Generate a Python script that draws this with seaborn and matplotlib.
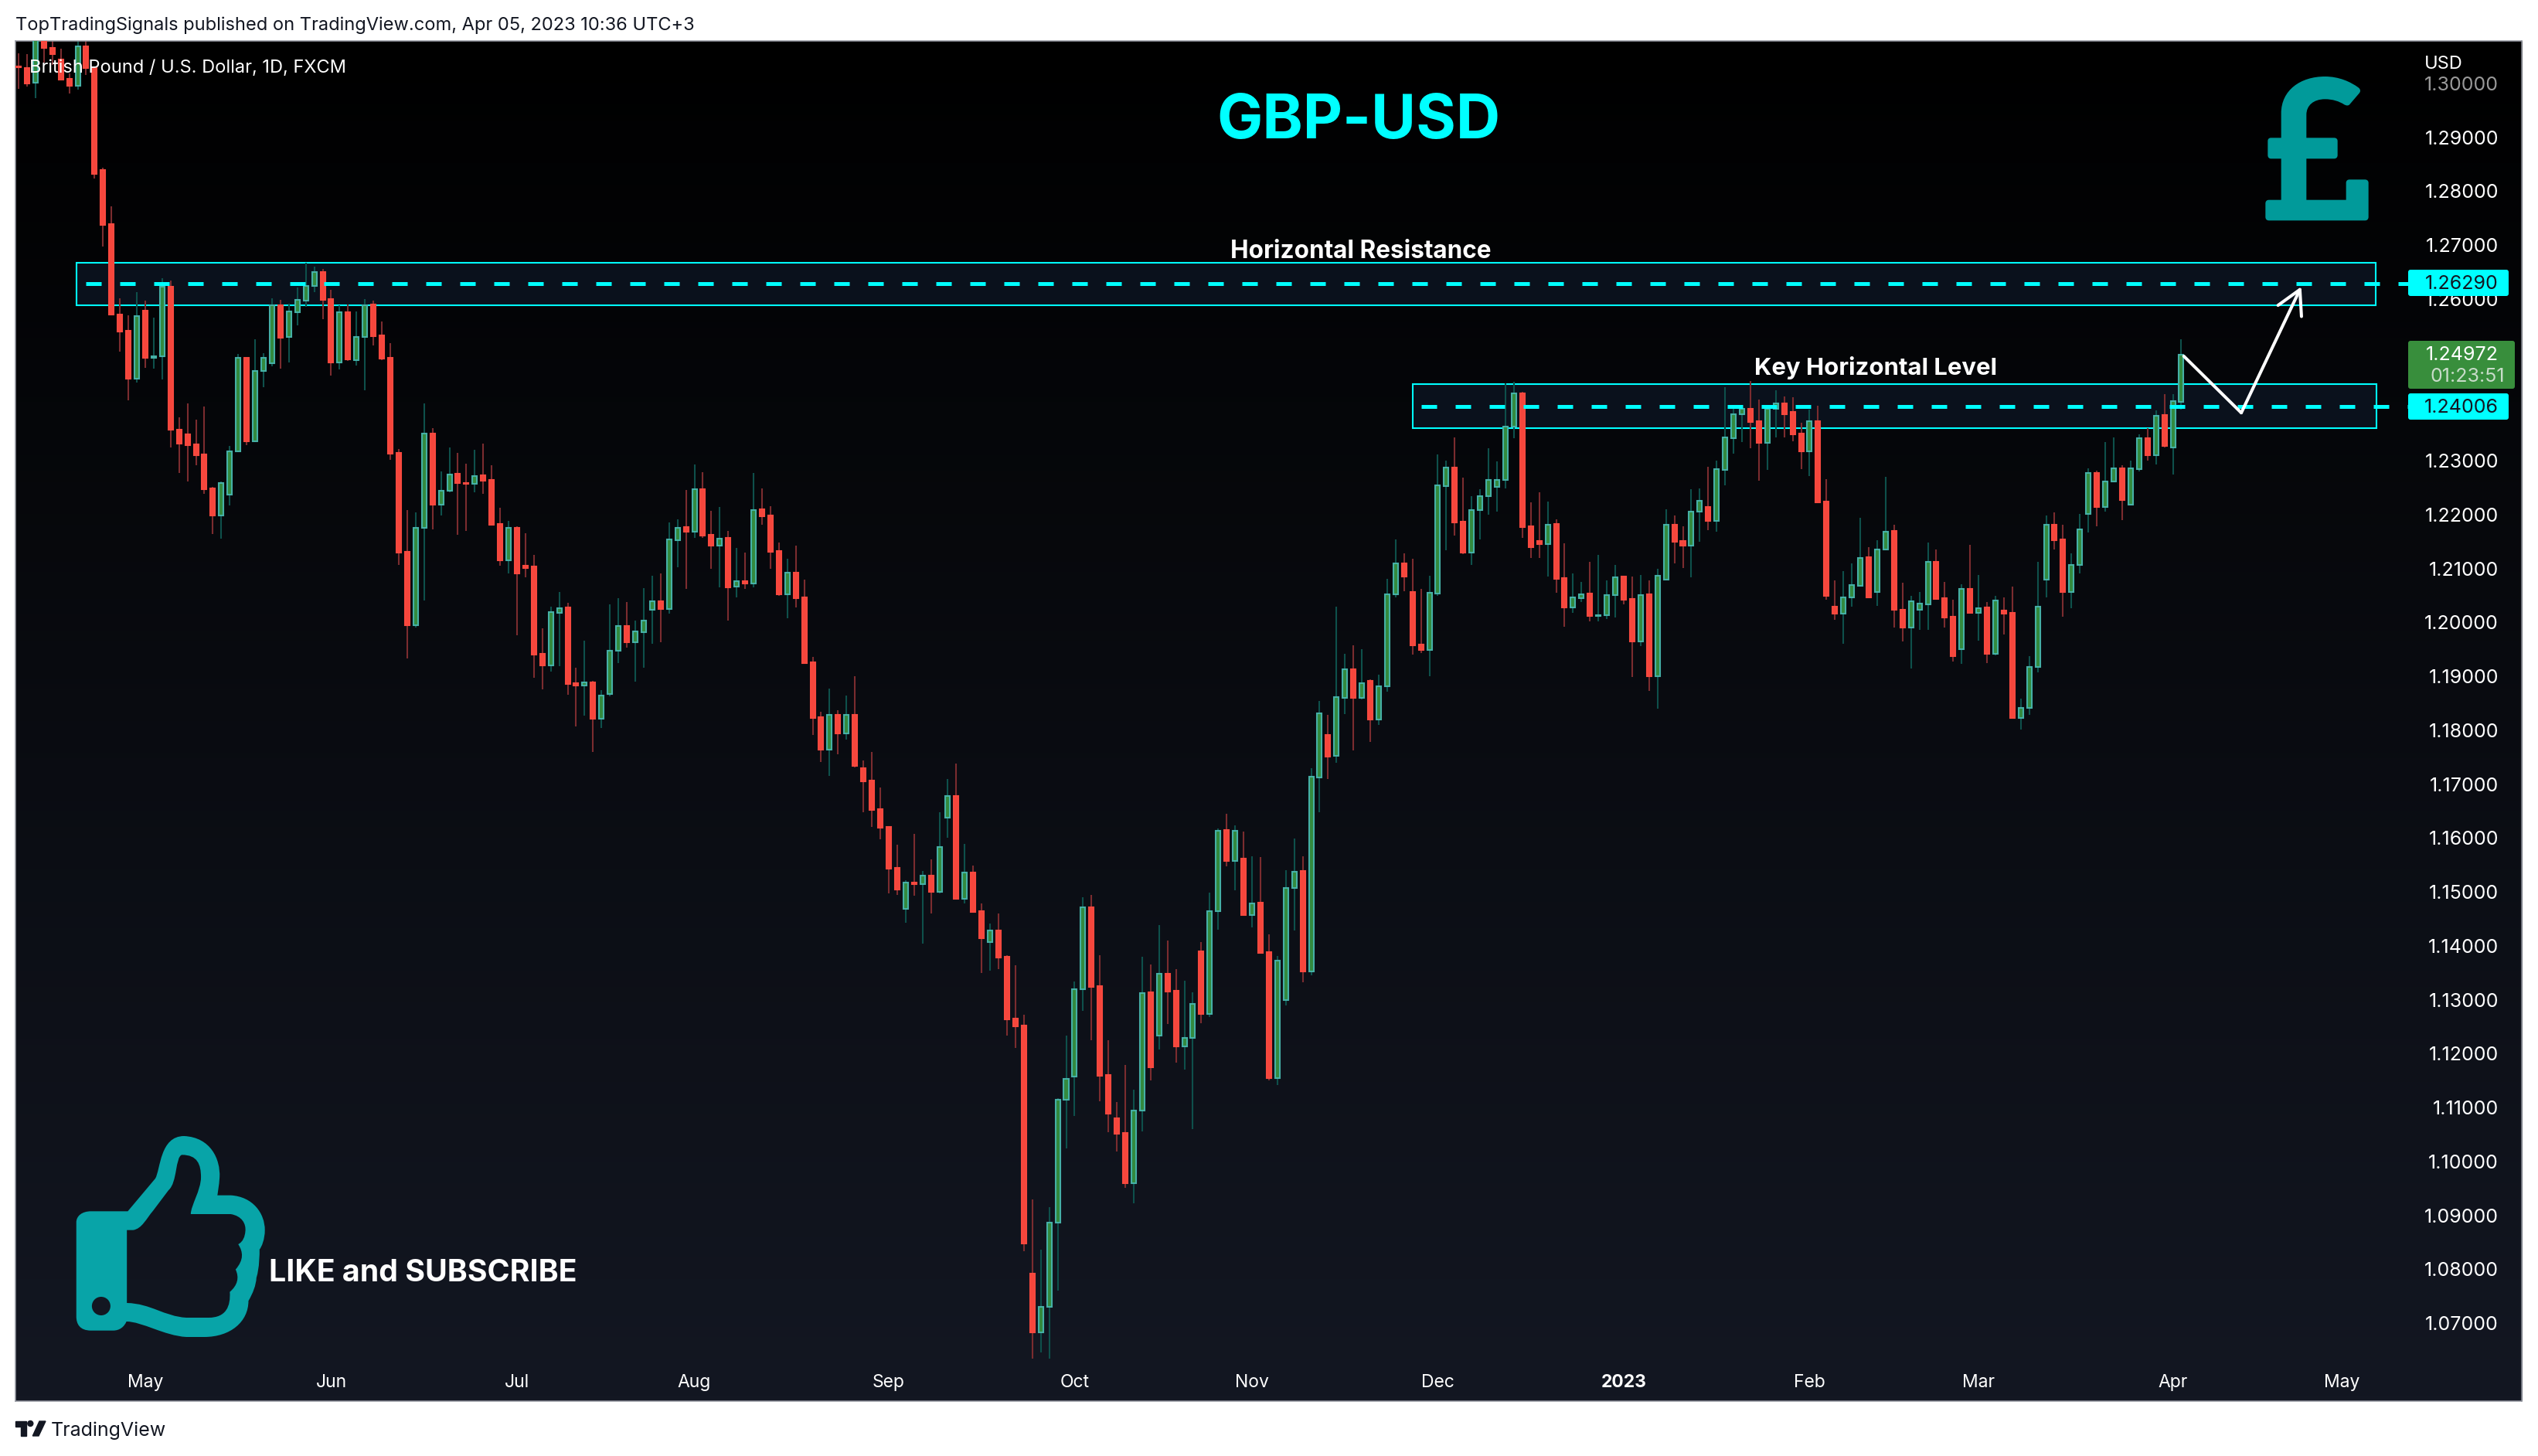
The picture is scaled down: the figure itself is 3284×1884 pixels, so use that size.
import numpy as np
import pandas as pd
import matplotlib
matplotlib.use('Agg')
import matplotlib.pyplot as plt
import seaborn as sns
from matplotlib.colors import LinearSegmentedColormap
from matplotlib.patches import FancyBboxPatch, PathPatch, Ellipse, Polygon, Rectangle
from matplotlib.path import Path

# daily candles, oldest first
opens = [
    1.3032,1.3029,1.3001,1.3085,1.3066,1.3044,1.3008,1.2995,1.3069,1.3029,
    1.2840,1.2739,1.2572,1.2541,1.2453,1.2578,1.2491,1.2494,1.2623,1.2358,
    1.2349,1.2330,1.2312,1.2248,1.2199,1.2237,1.2317,1.2491,1.2336,1.2466,
    1.2481,1.2589,1.2529,1.2576,1.2597,1.2625,1.2650,1.2600,1.2483,1.2575,
    1.2487,1.2529,1.2590,1.2532,1.2491,1.2315,1.2131,1.1995,1.2175,1.2351,
    1.2218,1.2245,1.2276,1.2259,1.2258,1.2273,1.2264,1.2183,1.2115,1.2176,
    1.2105,1.2104,1.1942,1.1921,1.2018,1.2028,1.1887,1.1883,1.1889,1.1822,
    1.1868,1.1947,1.1993,1.1964,1.1982,1.2023,1.2039,1.2025,1.2153,1.2177,
    1.2169,1.2247,1.2163,1.2143,1.2157,1.2066,1.2077,1.2073,1.2210,1.2199,
    1.2132,1.2052,1.2092,1.2047,1.1926,1.1824,1.1764,1.1828,1.1794,1.1828,
    1.1730,1.1707,1.1654,1.1621,1.1545,1.1469,1.1518,1.1515,1.1530,1.1501,
    1.1638,1.1678,1.1488,1.1536,1.1464,1.1407,1.1429,1.1380,1.1265,1.1252,
    1.0792,1.0683,1.0730,1.0886,1.1115,1.1158,1.1319,1.1472,1.1326,1.1160,
    1.1080,1.1053,1.0960,1.1094,1.1314,1.1233,1.1348,1.1317,1.1213,1.1230,
    1.1390,1.1274,1.1465,1.1615,1.1558,1.1562,1.1458,1.1480,1.1388,1.1155,
    1.1299,1.1508,1.1539,1.1353,1.1713,1.1791,1.1752,1.1860,1.1913,1.1860,
    1.1891,1.1820,1.1882,1.2052,1.2110,1.2057,1.1959,1.1949,1.2054,1.2253,
    1.2287,1.2187,1.2130,1.2208,1.2235,1.2252,1.2264,1.2364,1.2425,1.2178,
    1.2151,1.2145,1.2183,1.2082,1.2028,1.2045,1.2054,1.2012,1.2014,1.2051,
    1.2085,1.2044,1.1965,1.2052,1.1900,1.2080,1.2182,1.2151,1.2143,1.2205,
    1.2214,1.2189,1.2283,1.2342,1.2387,1.2397,1.2373,1.2334,1.2397,1.2406,
    1.2390,1.2350,1.2318,1.2373,1.2224,1.2029,1.2017,1.2046,1.2068,1.2121,
    1.2057,1.2135,1.2170,1.2023,1.1990,1.2023,1.2034,1.2112,1.2045,1.2011,
    1.1950,1.2062,1.2018,1.2028,1.1942,1.2022,1.2018,1.1823,1.1842,1.1918,
    1.2079,1.2182,1.2154,1.2056,1.2107,1.2201,1.2277,1.2215,1.2261,1.2286,
    1.2219,1.2285,1.2342,1.2311,1.2385,1.2324,1.2409]
closes = [
    1.3030,1.3000,1.3085,1.3066,1.3055,1.3007,1.2995,1.3069,1.3029,1.2832,
    1.2738,1.2572,1.2540,1.2453,1.2568,1.2491,1.2494,1.2623,1.2357,1.2332,
    1.2329,1.2311,1.2247,1.2199,1.2259,1.2318,1.2491,1.2336,1.2466,1.2491,
    1.2588,1.2528,1.2577,1.2599,1.2625,1.2650,1.2599,1.2483,1.2575,1.2488,
    1.2529,1.2589,1.2531,1.2490,1.2313,1.2130,1.1995,1.2176,1.2351,1.2218,
    1.2245,1.2275,1.2259,1.2258,1.2272,1.2263,1.2181,1.2115,1.2176,1.2091,
    1.2101,1.1940,1.1920,1.2019,1.2027,1.1886,1.1883,1.1889,1.1821,1.1865,
    1.1947,1.1993,1.1963,1.1983,1.2003,1.2039,1.2025,1.2154,1.2176,1.2168,
    1.2247,1.2161,1.2143,1.2156,1.2065,1.2076,1.2072,1.2209,1.2197,1.2131,
    1.2052,1.2092,1.2045,1.1924,1.1823,1.1764,1.1828,1.1794,1.1828,1.1734,
    1.1705,1.1652,1.1619,1.1543,1.1505,1.1517,1.1515,1.1530,1.1501,1.1584,
    1.1678,1.1488,1.1536,1.1463,1.1414,1.1429,1.1379,1.1264,1.1251,1.0848,
    1.0683,1.0730,1.0886,1.1115,1.1154,1.1319,1.1471,1.1324,1.1159,1.1089,
    1.1051,1.0960,1.1094,1.1313,1.1175,1.1348,1.1315,1.1213,1.1230,1.1293,
    1.1274,1.1465,1.1614,1.1558,1.1613,1.1457,1.1479,1.1387,1.1155,1.1372,
    1.1508,1.1538,1.1352,1.1714,1.1831,1.1751,1.1861,1.1913,1.1860,1.1887,
    1.1820,1.1882,1.2053,1.2110,1.2085,1.1958,1.1949,1.2055,1.2254,1.2287,
    1.2186,1.2129,1.2208,1.2235,1.2265,1.2264,1.2364,1.2425,1.2177,1.2140,
    1.2145,1.2182,1.2081,1.2028,1.2046,1.2053,1.2012,1.2014,1.2051,1.2084,
    1.2042,1.1965,1.2051,1.1900,1.2086,1.2182,1.2150,1.2143,1.2205,1.2226,
    1.2189,1.2284,1.2343,1.2387,1.2396,1.2372,1.2334,1.2397,1.2406,1.2386,
    1.2349,1.2318,1.2373,1.2223,1.2050,1.2016,1.2046,1.2069,1.2120,1.2046,
    1.2135,1.2169,1.2023,1.1990,1.2039,1.2035,1.2112,1.2044,1.2009,1.1938,
    1.2062,1.2018,1.2027,1.1942,1.2041,1.2016,1.1823,1.1842,1.1918,1.2029,
    1.2182,1.2153,1.2056,1.2107,1.2172,1.2277,1.2214,1.2261,1.2286,1.2227,
    1.2286,1.2342,1.2310,1.2384,1.2327,1.2410,1.2497]
highs = [
    1.3056,1.3054,1.3090,1.3095,1.3085,1.3064,1.3019,1.3090,1.3085,1.3029,
    1.2844,1.2772,1.2601,1.2570,1.2613,1.2597,1.2566,1.2638,1.2635,1.2381,
    1.2407,1.2376,1.2400,1.2252,1.2262,1.2328,1.2498,1.2491,1.2526,1.2499,
    1.2601,1.2599,1.2592,1.2622,1.2667,1.2660,1.2656,1.2617,1.2588,1.2590,
    1.2577,1.2600,1.2597,1.2559,1.2518,1.2322,1.2208,1.2204,1.2406,1.2360,
    1.2280,1.2325,1.2315,1.2295,1.2320,1.2332,1.2292,1.2213,1.2188,1.2178,
    1.2165,1.2125,1.1989,1.2029,1.2056,1.2036,1.1916,1.1966,1.1892,1.1874,
    1.2034,1.2045,1.2038,1.2003,1.2064,1.2087,1.2091,1.2186,1.2191,1.2246,
    1.2293,1.2279,1.2207,1.2214,1.2170,1.2138,1.2130,1.2277,1.2249,1.2216,
    1.2148,1.2118,1.2143,1.2080,1.1936,1.1835,1.1877,1.1837,1.1864,1.1900,
    1.1744,1.1760,1.1694,1.1622,1.1588,1.1522,1.1608,1.1539,1.1560,1.1648,
    1.1709,1.1738,1.1589,1.1549,1.1479,1.1442,1.1460,1.1383,1.1364,1.1272,
    1.0929,1.0837,1.0916,1.1118,1.1234,1.1334,1.1490,1.1494,1.1383,1.1225,
    1.1110,1.1179,1.1133,1.1380,1.1365,1.1439,1.1410,1.1357,1.1335,1.1314,
    1.1407,1.1499,1.1618,1.1645,1.1623,1.1612,1.1566,1.1565,1.1422,1.1381,
    1.1540,1.1599,1.1566,1.1730,1.1854,1.1828,1.2029,1.1942,1.1957,1.1950,
    1.1895,1.1903,1.2081,1.2154,1.2128,1.2118,1.2063,1.2087,1.2312,1.2300,
    1.2344,1.2269,1.2234,1.2247,1.2323,1.2299,1.2444,1.2446,1.2428,1.2223,
    1.2241,1.2224,1.2191,1.2147,1.2091,1.2075,1.2112,1.2125,1.2078,1.2107,
    1.2085,1.2085,1.2088,1.2078,1.2100,1.2210,1.2198,1.2179,1.2247,1.2248,
    1.2289,1.2300,1.2437,1.2397,1.2397,1.2448,1.2413,1.2404,1.2431,1.2419,
    1.2418,1.2371,1.2395,1.2402,1.2266,1.2078,1.2095,1.2109,1.2194,1.2140,
    1.2152,1.2270,1.2181,1.2074,1.2049,1.2057,1.2148,1.2135,1.2075,1.2042,
    1.2071,1.2144,1.2088,1.2038,1.2049,1.2046,1.2066,1.1859,1.1938,1.2112,
    1.2199,1.2204,1.2181,1.2128,1.2201,1.2286,1.2282,1.2335,1.2344,1.2292,
    1.2300,1.2349,1.2361,1.2393,1.2424,1.2424,1.2525]
lows = [
    1.2990,1.2994,1.2973,1.3038,1.3034,1.3005,1.2982,1.2989,1.3016,1.2824,
    1.2698,1.2572,1.2502,1.2412,1.2445,1.2473,1.2471,1.2451,1.2325,1.2277,
    1.2261,1.2292,1.2238,1.2164,1.2156,1.2217,1.2317,1.2329,1.2336,1.2436,
    1.2475,1.2471,1.2482,1.2551,1.2586,1.2613,1.2562,1.2458,1.2469,1.2485,
    1.2477,1.2431,1.2514,1.2487,1.2302,1.2107,1.1933,1.1990,1.2041,1.2173,
    1.2199,1.2241,1.2162,1.2170,1.2241,1.2239,1.2181,1.2105,1.2091,1.1976,
    1.2084,1.1897,1.1876,1.1909,1.1919,1.1866,1.1807,1.1827,1.1760,1.1804,
    1.1863,1.1925,1.1953,1.1890,1.1916,1.1960,1.1963,1.2016,1.2102,1.2062,
    1.2157,1.2157,1.2100,1.2065,1.2003,1.2046,1.2062,1.2065,1.2181,1.2099,
    1.2049,1.2008,1.2028,1.1923,1.1791,1.1741,1.1716,1.1755,1.1783,1.1731,
    1.1648,1.1621,1.1598,1.1497,1.1495,1.1443,1.1493,1.1404,1.1460,1.1497,
    1.1601,1.1488,1.1479,1.1461,1.1350,1.1354,1.1357,1.1234,1.1211,1.0833,
    1.0634,1.0646,1.0634,1.0761,1.1024,1.1084,1.1280,1.1225,1.1112,1.1054,
    1.1018,1.0951,1.0922,1.1056,1.1150,1.1208,1.1255,1.1184,1.1171,1.1060,
    1.1256,1.1268,1.1430,1.1548,1.1503,1.1457,1.1435,1.1385,1.1150,1.1142,
    1.1289,1.1429,1.1333,1.1346,1.1648,1.1710,1.1740,1.1830,1.1763,1.1858,
    1.1778,1.1810,1.1872,1.2047,1.2058,1.1941,1.1944,1.1900,1.2049,1.2134,
    1.2161,1.2127,1.2107,1.2154,1.2200,1.2206,1.2248,1.2342,1.2157,1.2119,
    1.2119,1.2085,1.2055,1.1992,1.2018,1.2038,1.2002,1.2002,1.2006,1.2009,
    1.2034,1.1899,1.1956,1.1873,1.1840,1.2080,1.2110,1.2101,1.2084,1.2150,
    1.2171,1.2168,1.2254,1.2313,1.2335,1.2323,1.2263,1.2283,1.2344,1.2344,
    1.2336,1.2285,1.2271,1.2222,1.2042,1.2005,1.1960,1.2030,1.2068,1.2046,
    1.2031,1.2135,1.1990,1.1965,1.1915,1.1986,1.1986,1.2044,1.1991,1.1927,
    1.1923,1.2016,1.1966,1.1925,1.1939,1.1978,1.1821,1.1802,1.1828,1.1907,
    1.2046,1.2136,1.2011,1.2027,1.2091,1.2167,1.2179,1.2205,1.2261,1.2190,
    1.2219,1.2280,1.2301,1.2293,1.2324,1.2275,1.2395]

month_bars = [15, 37, 59, 80, 103, 125, 146, 168, 190, 212, 232, 255, 275]
month_labels = ['May', 'Jun', 'Jul', 'Aug', 'Sep', 'Oct', 'Nov', 'Dec', '2023', 'Feb', 'Mar', 'Apr', 'May']
price_ticks = [1.07, 1.08, 1.09, 1.10, 1.11, 1.12, 1.13, 1.14, 1.15, 1.16, 1.17, 1.18,
               1.19, 1.20, 1.21, 1.22, 1.23, 1.24, 1.25, 1.26, 1.27, 1.28, 1.29, 1.30]
hidden_ticks = [1.24, 1.25]

resistance = 1.2629
resistance_zone = (1.25883, 1.26673)
key_level = 1.24006
key_zone = (1.23604, 1.24427)
last_price = 1.24972

path_bars = [256.3, 263.1]
path_prices = [1.2494, 1.2389]
arrow_tip = (270.2, 1.2623)

sns.set_theme(style="dark", rc={'axes.grid': False})
plt.rcParams['font.family'] = ['Inter', 'Roboto', 'DejaVu Sans']

W, H = 3284, 1884
CYAN = '#00ffff'
fig = plt.figure(figsize=(W / 100, H / 100), dpi=100, facecolor='white')

# plot frame in pixels: left 20, right 3263, top 53.5, bottom 1813
ax = fig.add_axes([20 / W, 1 - 1813 / H, (3263 - 20) / W, (1813 - 53.5) / H], zorder=1)
grad = LinearSegmentedColormap.from_list('bg', ['#000000', '#131722'])
ax.imshow(np.linspace(0, 1, 256)[:, None], cmap=grad, extent=[0, 1, 0, 1], transform=ax.transAxes,
          aspect='auto', zorder=0)

bars = np.arange(len(opens))
df = pd.DataFrame({'bar': bars, 'open': opens, 'high': highs, 'low': lows, 'close': closes})
df['side'] = np.where(df['close'] >= df['open'], 'up', 'down')

# zones sit under the candles
for (b0, b1), (p0, p1) in [((6.86, 279.05), resistance_zone), ((165.05, 279.1), key_zone)]:
    ax.add_patch(Rectangle((b0, p0), b1 - b0, p1 - p0, facecolor='#0a111c', edgecolor=CYAN, lw=1.5, zorder=1))

wicks = df.melt(id_vars=['bar', 'side'], value_vars=['low', 'high'], value_name='price')
sns.lineplot(data=wicks, x='bar', y='price', units='bar', hue='side', estimator=None,
             palette={'up': '#0e504b', 'down': '#7b2c2f'}, linewidth=1.5, legend=False,
             solid_capstyle='butt', ax=ax, zorder=2)

body_colors = {'up': '#338a3e', 'down': '#f6463c'}
edge_colors = {'up': '#45b0a6', 'down': '#f8493f'}
ax.bar(df['bar'], (df['close'] - df['open']).abs(), bottom=df[['open', 'close']].min(axis=1), width=0.55,
       color=df['side'].map(body_colors), edgecolor=df['side'].map(edge_colors), linewidth=1.5, zorder=3)

ax.plot([8.0, 282.9], [resistance] * 2, color=CYAN, lw=3.6, linestyle=(0, (4, 4.8)),
        dash_capstyle='butt', zorder=4)
ax.plot([166.0, 282.9], [key_level] * 2, color=CYAN, lw=3.6, linestyle=(0, (4, 4.8)),
        dash_capstyle='butt', zorder=4)

ax.plot(path_bars, path_prices, color='white', lw=2.9, solid_capstyle='round', zorder=5)
ax.annotate('', xy=arrow_tip, xytext=(path_bars[1], path_prices[1]), zorder=5,
            arrowprops=dict(arrowstyle='->,head_length=1.0,head_width=0.55', mutation_scale=22, color='white',
                            lw=2.9, shrinkA=0, shrinkB=0))

ax.set_xlim(-0.366, 296.3)
ax.set_ylim(1.05555, 1.30781)
ax.set_xlabel('')
ax.set_ylabel('')
ax.set_xticks(month_bars)
ax.set_xticklabels(month_labels)
ax.set_yticks(price_ticks)
ax.set_yticklabels(['' if p in hidden_ticks else f'{p:.5f}' for p in price_ticks])
ax.yaxis.tick_right()
ax.tick_params(axis='x', length=0, pad=-25, labelsize=16.5, labelcolor='white')
ax.tick_params(axis='y', length=0, pad=-21.6, labelsize=18, labelcolor='white')
for lab in ax.get_yticklabels():
    lab.set_ha('right')
ax.get_yticklabels()[-1].set_alpha(0.6)
ax.get_xticklabels()[8].set_fontweight('bold')
for s in ax.spines.values():
    s.set_visible(True)
    s.set_color('#9598a1')
    s.set_linewidth(1.1)

# overlay in pixel coordinates for the annotations, labels and pictures
deco = fig.add_axes([0, 0, 1, 1], zorder=5)
deco.set_xlim(0, W)
deco.set_ylim(H, 0)
deco.axis('off')

deco.text(20, 33, 'TopTradingSignals published on TradingView.com, Apr 05, 2023 10:36 UTC+3',
          fontsize=17, color='#131722', va='center')
deco.text(38, 88, 'British Pound / U.S. Dollar, 1D, FXCM', fontsize=17, color='white', va='center')
deco.text(1758, 158, 'GBP-USD', fontsize=57, color=CYAN, fontweight='bold', ha='center', va='center')
deco.text(1761, 325, 'Horizontal Resistance', fontsize=22.7, color='white', fontweight='bold', ha='center', va='center')
deco.text(2427, 476, 'Key Horizontal Level', fontsize=22.4, color='white', fontweight='bold', ha='center', va='center')
deco.text(348, 1647, 'LIKE and SUBSCRIBE', fontsize=28.3, color='white', fontweight='bold', va='center')
deco.text(3137, 83, 'USD', fontsize=17, color='white', va='center')
deco.text(66, 1851, 'TradingView', fontsize=18, color='#131722', va='center')


def label_box(x0, x1, y0, y1, color):
    deco.add_patch(FancyBboxPatch((x0, y0), x1 - x0, y1 - y0, boxstyle='round,pad=0,rounding_size=3',
                                  facecolor=color, edgecolor='none'))


label_box(3116, 3246, 349, 383, CYAN)
deco.text(3233, 367, f'{resistance:.5f}', fontsize=18, color='#131722', ha='right', va='center')
label_box(3116, 3246, 509, 543, CYAN)
deco.text(3233, 527, f'{key_level:.5f}', fontsize=18, color='#131722', ha='right', va='center')
label_box(3116, 3254, 441, 503, '#388e3c')
deco.text(3233, 459, f'{last_price:.5f}', fontsize=18, color='white', ha='right', va='center')
deco.text(3241, 487, '01:23:51', fontsize=18, color='#c8dcc9', ha='right', va='center')


def bezier_path(start, segments, to_px):
    # segments: one point is a straight line, three points a cubic curve
    verts, codes = [to_px(start)], [Path.MOVETO]
    for seg in segments:
        code = Path.LINETO if len(seg) == 1 else Path.CURVE4
        for pt in seg:
            verts.append(to_px(pt))
            codes.append(code)
    return verts, codes


# pound sign, traced in the zoom crop at 3x
pound_px = lambda p: (2800 + p[0] / 3, 30 + p[1] / 3)
v, c = bezier_path((455, 445), [
    [(455, 350)], [(455, 260), (530, 207), (625, 207)], [(680, 207), (725, 228), (755, 250)],
    [(765, 258), (763, 266), (758, 272)], [(722, 314)], [(716, 322), (708, 320), (700, 316)],
    [(680, 303), (655, 295), (625, 295)], [(580, 295), (553, 320), (553, 355)], [(553, 445)],
    [(660, 445)], [(670, 445), (674, 450), (674, 458)], [(674, 512)], [(674, 520), (670, 526), (660, 526)],
    [(553, 526)], [(553, 686)], [(707, 686)], [(707, 620)], [(707, 612), (712, 607), (720, 607)],
    [(780, 607)], [(789, 607), (794, 612), (794, 620)], [(794, 752)], [(794, 761), (789, 766), (780, 766)],
    [(408, 766)], [(399, 766), (394, 761), (394, 752)], [(394, 700)], [(394, 691), (399, 686), (408, 686)],
    [(455, 686)], [(455, 526)], [(416, 526)], [(407, 526), (403, 520), (403, 512)], [(403, 458)],
    [(403, 450), (407, 445), (416, 445)], [(455, 445)]], pound_px)
deco.add_patch(PathPatch(Path(v, c), facecolor='#019a9a', edgecolor='none'))

# thumb icon, traced in its zoom crop
thumb_px = lambda p: (p[0] / 1.742, 1400 + p[1] / 3)
ov, oc = bezier_path((172, 545), [
    [(172, 520), (185, 502), (205, 502)], [(288, 502)], [(350, 375)], [(362, 340), (360, 210), (415, 210)],
    [(475, 215), (497, 300), (495, 370)], [(494, 400), (490, 440), (490, 440)], [(520, 440)],
    [(570, 445), (597, 510), (597, 575)], [(597, 610), (590, 640), (585, 650)], [(585, 670), (585, 720), (578, 760)],
    [(577, 790), (570, 820), (560, 850)], [(560, 930), (520, 990), (460, 990)], [(420, 990)],
    [(370, 985), (320, 930), (285, 930)], [(280, 950), (270, 965), (255, 965)], [(205, 965)],
    [(180, 965), (172, 940), (172, 910)], [(172, 545)]], thumb_px)
iv, ic = bezier_path((286, 575), [
    [(300, 575)], [(320, 570), (330, 530), (345, 500)], [(380, 420)], [(400, 390), (395, 290), (410, 283)],
    [(445, 283), (453, 320), (453, 370)], [(453, 420), (430, 480), (430, 513)], [(520, 513)],
    [(545, 520), (555, 550), (553, 580)], [(552, 600), (548, 620), (537, 630)], [(548, 660), (550, 690), (531, 728)],
    [(540, 760), (535, 790), (518, 815)], [(520, 870), (510, 915), (470, 915)], [(420, 915)],
    [(370, 910), (340, 860), (286, 858)], [(286, 575)]], thumb_px)
iv = iv[::-1]
ic = [Path.MOVETO] + ic[:0:-1]
deco.add_patch(PathPatch(Path(ov + iv, oc + ic), facecolor='#08a4a8', edgecolor='none'))
deco.add_patch(Ellipse(thumb_px((228, 870)), 24, 24, facecolor='#131722', edgecolor='none'))

# TradingView logo
deco.add_patch(Polygon([(20, 1839), (34, 1839), (34, 1858), (27, 1858), (27, 1846), (20, 1846)], color='#131722'))
deco.add_patch(Ellipse((39.3, 1842), 7, 7, color='#131722'))
deco.add_patch(Polygon([(51, 1839), (59, 1839), (50, 1858), (42.3, 1858)], color='#131722'))

fig.savefig('out.png', dpi=100)
